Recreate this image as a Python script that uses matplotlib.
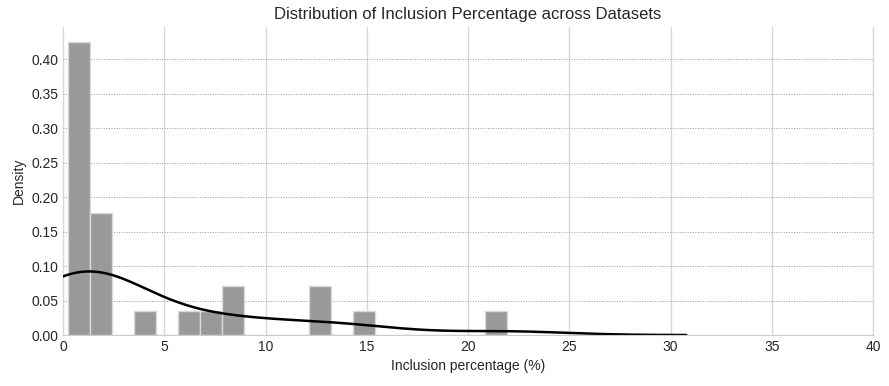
import matplotlib
matplotlib.use("Agg")
import matplotlib.pyplot as plt
import seaborn as sns
import numpy as np

# Inclusion percentages of the datasets
inclusion_pct = [0.23, 0.30, 0.40, 0.45, 0.50, 0.60, 0.70, 0.80, 0.90, 1.00, 1.10, 1.20,
                 1.40, 1.60, 1.80, 2.00, 2.20,
                 4.00,
                 6.20,
                 7.30,
                 8.20, 8.60,
                 12.50, 12.90,
                 14.90,
                 21.93]
n_bins = 20
x_ticks = [0, 5, 10, 15, 20, 25, 30, 35, 40]
y_ticks = [0.00, 0.05, 0.10, 0.15, 0.20, 0.25, 0.30, 0.35, 0.40]

sns.set_style("whitegrid")
plt.rcParams['font.family'] = ['Liberation Sans', 'DejaVu Sans']

fig, ax = plt.subplots(figsize=(8.89, 3.86), dpi=100)
fig.subplots_adjust(left=0.071, right=0.982, bottom=0.132, top=0.930)

sns.histplot(inclusion_pct, bins=n_bins, stat="density", ax=ax,
             color="#999999", alpha=1.0, edgecolor="#d9d9d9", linewidth=1)
sns.kdeplot(inclusion_pct, ax=ax, color="black", linewidth=1.8)

ax.set_xlim(0, 40)
ax.set_xticks(x_ticks)
ax.set_yticks(y_ticks)
ax.set_yticklabels([f"{v:.2f}" for v in y_ticks])
ax.tick_params(labelsize=10, colors="#262626", length=0)

ax.xaxis.grid(True, color="#d8d8d8", linestyle="-", linewidth=1)
ax.yaxis.grid(True, color="#999999", linestyle=(0, (1, 1.6)), linewidth=0.7)
ax.set_axisbelow(True)
for gl in ax.xaxis.get_gridlines():
    gl.set_clip_on(False)

for s in ["top", "right", "left"]:
    ax.spines[s].set_visible(False)
ax.spines["bottom"].set_color("#cccccc")

ax.set_xlabel("Inclusion percentage (%)", fontsize=10, color="#262626")
ax.set_ylabel("Density", fontsize=10, color="#262626")
ax.set_title("Distribution of Inclusion Percentage across Datasets", fontsize=12, color="#262626")

fig.savefig("out.png", dpi=100)
